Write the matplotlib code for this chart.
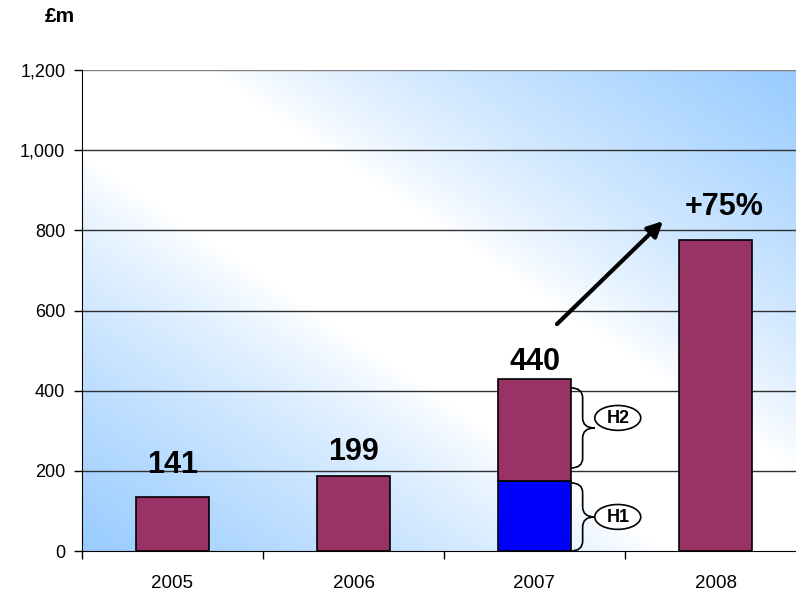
import numpy as np
import matplotlib
matplotlib.use("Agg")
import matplotlib.pyplot as plt
from matplotlib.path import Path
from matplotlib.patches import PathPatch, Ellipse

plt.rcParams['font.family'] = ['Liberation Sans', 'DejaVu Sans']

years = ['2005', '2006', '2007', '2008']
h1 = [0, 0, 174, 0]          # blue part (2007 H1)
totals = [134, 187, 428, 776]
labels = ['141', '199', '440', None]
label_y = [195, 227, 452, None]
growth_label = '+75%'
yticks = [0, 200, 400, 600, 800, 1000, 1200]
ytick_labels = ['0', '200', '400', '600', '800', '1,000', '1,200']

BAR = '#993366'
BLUE = '#0000FF'

fig = plt.figure(figsize=(7.96, 5.95), dpi=100)
ax = fig.add_axes([82/796, 44/595, 724/796, 481/595])
ax.set_xlim(-0.5, 3.5)
ax.set_ylim(0, 1200)

# gradient background
n = 400
xx, yy = np.meshgrid(np.linspace(0, 1, n), np.linspace(0, 1, n))
d = np.abs(xx * 1.02 - yy)
t = np.clip((d - 0.18) / 0.82, 0, 1) ** 0.8
white = np.array([1.0, 1.0, 1.0])
blue = np.array([0.6, 0.8, 1.0])
img = white[None, None, :] * (1 - t[..., None]) + blue[None, None, :] * t[..., None]
ax.imshow(img, extent=[0, 1, 0, 1], transform=ax.transAxes, aspect='auto',
          origin='upper', zorder=0, interpolation='bilinear')

for y in yticks[1:]:
    ax.axhline(y, color='#303030' if y < 1200 else '#808080', lw=1, zorder=1)

x = np.arange(len(years))
purple_part = [tot - b for tot, b in zip(totals, h1)]
ax.bar(x, h1, width=0.4, color=BLUE, edgecolor='black', lw=1.2, zorder=2)
ax.bar(x, purple_part, bottom=h1, width=0.4, color=BAR, edgecolor='black', lw=1.2, zorder=2)

for i, (lab, ly) in enumerate(zip(labels, label_y)):
    if lab:
        ax.text(i, ly, lab, ha='center', va='baseline', fontsize=22, fontweight='bold', zorder=5)
ax.text(3.05, 838, growth_label, ha='center', va='baseline', fontsize=22, fontweight='bold', zorder=5)

ax.annotate('', xy=(2.71, 823), xytext=(2.124, 566),
            arrowprops=dict(arrowstyle='-|>,head_length=0.9,head_width=0.45', lw=3, color='black',
                            shrinkA=0, shrinkB=0), zorder=5)

def brace(x0, ytop, ybot, dx=0.066, ry=25):
    xm = x0 + dx
    x1 = x0 + 2 * dx
    ymid = (ytop + ybot) / 2
    verts = [(x0, ytop), (xm, ytop), (xm, ytop - ry),
             (xm, ymid + ry), (xm, ymid), (x1, ymid),
             (xm, ymid), (xm, ymid - ry),
             (xm, ybot + ry), (xm, ybot), (x0, ybot)]
    codes = [Path.MOVETO, Path.CURVE3, Path.CURVE3,
             Path.LINETO, Path.CURVE3, Path.CURVE3,
             Path.CURVE3, Path.CURVE3,
             Path.LINETO, Path.CURVE3, Path.CURVE3]
    ax.add_patch(PathPatch(Path(verts, codes), fill=False, lw=1.2, color='black', zorder=4))
    return x1, ymid

bx = 2.2
for name, ytop, ybot, ey in [('H2', 407, 207, 332), ('H1', 170, 0, 85)]:
    brace(bx, ytop, ybot)
    e = Ellipse((2.46, ey), 0.254, 62, facecolor='white', edgecolor='black', lw=1.2, zorder=4)
    ax.add_patch(e)
    ax.text(2.46, ey - 2, name, ha='center', va='center', fontsize=13, fontweight='bold', zorder=5)

ax.set_yticks(yticks)
ax.set_yticklabels(ytick_labels, fontsize=13)
ax.tick_params(axis='y', length=6, width=1, direction='out', pad=6)

ax.set_xticks([-0.5, 0.5, 1.5, 2.5, 3.5])
ax.set_xticklabels([])
ax.set_xticks(x, minor=True)
ax.set_xticklabels(years, minor=True, fontsize=13.5)
ax.tick_params(axis='x', which='major', length=6, width=1, direction='out')
ax.tick_params(axis='x', which='minor', length=0, pad=17)

for s in ['top', 'right']:
    ax.spines[s].set_visible(False)
ax.spines['left'].set_color('black')
ax.spines['bottom'].set_color('black')
ax.set_axisbelow(False)

fig.text(45/796, 1 - 17/595, '£m', fontsize=15, fontweight='bold', ha='left', va='center')

fig.savefig('out.png', dpi=100)
